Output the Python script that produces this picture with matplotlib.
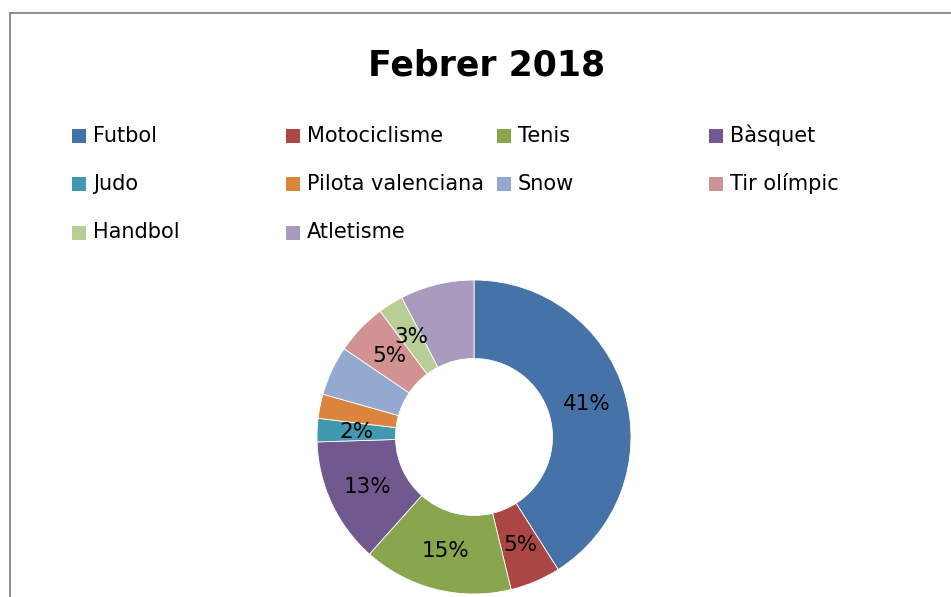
import numpy as np
import matplotlib
matplotlib.use("Agg")
import matplotlib.pyplot as plt
from matplotlib.patches import Rectangle
from matplotlib.lines import Line2D

# Data (share of each sport, %)
sports = ["Futbol", "Motociclisme", "Tenis", "Bàsquet", "Judo",
          "Pilota valenciana", "Snow", "Tir olímpic", "Handbol", "Atletisme"]
shares = [41.0, 5.2, 15.4, 12.9, 2.4, 2.5, 5.1, 5.3, 2.6, 7.6]
show_label = [True, True, True, True, True, False, False, True, True, False]
colors = ["#4572A7", "#AA4643", "#89A54E", "#71588F", "#4198AF",
          "#DB843D", "#93A9CF", "#D19392", "#B9CD96", "#A99BBD"]

W, H = 951, 597
fig = plt.figure(figsize=(W / 100, H / 100), dpi=100)
fig.patch.set_facecolor("white")

# chart border (left and top edges visible)
fig.add_artist(Line2D([9.5 / W, 9.5 / W], [0, 1 - 12.5 / H], color="#868686", lw=1.3))
fig.add_artist(Line2D([9.5 / W, 1], [1 - 12.5 / H, 1 - 12.5 / H], color="#868686", lw=1.3))

# title
fig.text(487 / W, 1 - 66 / H, "Febrer 2018", ha="center", va="center",
         fontsize=25, fontweight="bold", color="black")

# legend, four equal columns like the original
col_x = [72, 286, 497, 709]
row_y = [135.5, 184, 232.5]
for i, (name, c) in enumerate(zip(sports, colors)):
    x0 = col_x[i % 4]
    y0 = row_y[i // 4]
    fig.add_artist(Rectangle((x0 / W, 1 - (y0 + 7) / H), 14 / W, 14 / H,
                             facecolor=c, edgecolor="none", transform=fig.transFigure))
    fig.text((x0 + 21) / W, 1 - y0 / H, name, ha="left", va="center",
             fontsize=15, color="black")

# donut
cx, cy, R = 474, 437, 157
ax = fig.add_axes([(cx - R) / W, (H - cy - R) / H, 2 * R / W, 2 * R / H])
wedges, _ = ax.pie(shares, colors=colors, startangle=90, counterclock=False,
                   radius=1.0, wedgeprops=dict(width=0.5, edgecolor="white", linewidth=0.6))
ax.set_xlim(-1, 1)
ax.set_ylim(-1, 1)
ax.set_aspect("equal")
ax.axis("off")

total = sum(shares)
for w, v, show in zip(wedges, shares, show_label):
    if not show:
        continue
    ang = np.deg2rad((w.theta1 + w.theta2) / 2)
    ax.text(0.75 * np.cos(ang), 0.75 * np.sin(ang), f"{round(v / total * 100):.0f}%",
            ha="center", va="center", fontsize=15.5, color="black")

fig.savefig("out.png", dpi=100)
